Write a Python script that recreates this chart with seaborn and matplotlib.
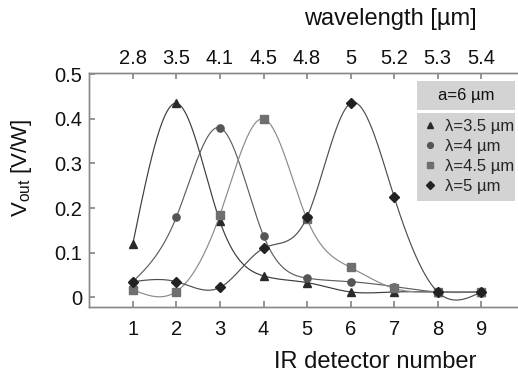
import numpy as np
import matplotlib
matplotlib.use("Agg")
import matplotlib.pyplot as plt
from matplotlib.lines import Line2D
from matplotlib.patches import Rectangle
import seaborn as sns

# data
detector = [1, 2, 3, 4, 5, 6, 7, 8, 9]
wavelength_labels = ["2.8", "3.5", "4.1", "4.5", "4.8", "5", "5.2", "5.3", "5.4"]
v_35 = [0.120, 0.435, 0.170, 0.048, 0.033, 0.012, 0.012, 0.012, 0.012]
v_40 = [0.035, 0.180, 0.380, 0.138, 0.043, 0.035, 0.024, 0.012, 0.012]
v_45 = [0.017, 0.013, 0.185, 0.400, 0.175, 0.067, 0.020, 0.012, 0.012]
v_50 = [0.035, 0.035, 0.022, 0.110, 0.180, 0.435, 0.225, 0.012, 0.012]
series_labels = ["λ=3.5 µm", "λ=4 µm", "λ=4.5 µm", "λ=5 µm"]

W, H = 518, 376


def smooth_curve(x, y, n=400):
    # natural cubic spline through the measured points (for the drawn line only)
    x = np.asarray(x, float)
    y = np.asarray(y, float)
    k = len(x)
    h = np.diff(x)
    A = np.zeros((k, k))
    r = np.zeros(k)
    A[0, 0] = A[-1, -1] = 1
    for i in range(1, k - 1):
        A[i, i - 1] = h[i - 1]
        A[i, i] = 2 * (h[i - 1] + h[i])
        A[i, i + 1] = h[i]
        r[i] = 6 * ((y[i + 1] - y[i]) / h[i] - (y[i] - y[i - 1]) / h[i - 1])
    M = np.linalg.solve(A, r)
    xs = np.linspace(x[0], x[-1], n)
    idx = np.clip(np.searchsorted(x, xs) - 1, 0, k - 2)
    x0, x1 = x[idx], x[idx + 1]
    hh = x1 - x0
    a = (x1 - xs) / hh
    b = (xs - x0) / hh
    ys = a * y[idx] + b * y[idx + 1] + ((a**3 - a) * M[idx] + (b**3 - b) * M[idx + 1]) * hh**2 / 6
    return xs, ys


sns.set_theme(style="ticks")
plt.rcParams["font.family"] = ["Liberation Sans", "DejaVu Sans"]
plt.rcParams["mathtext.fontset"] = "custom"
plt.rcParams["mathtext.rm"] = "Liberation Sans"

fig = plt.figure(figsize=(W / 100, H / 100), dpi=100)
ax = fig.add_axes([89.3 / W, 1 - 307.3 / H, (524.8 - 89.3) / W, (307.3 - 73.3) / H])

styles = [
    (v_35, "^", "#3c3c3c", "#2a2a2a", 6.2),
    (v_40, "o", "#5e5e5e", "#555555", 5.2),
    (v_45, "s", "#8a8a8a", "#6f6f6f", 5.2),
    (v_50, "D", "#4e4e4e", "#222222", 4.6),
]

for vals, mk, lc, mc, ms in styles:
    xs, ys = smooth_curve(detector, vals)
    sns.lineplot(x=xs, y=ys, ax=ax, color=lc, lw=0.85, sort=False)
    ax.plot(detector, vals, ls="none", marker=mk, color=mc, ms=ms, mec=mc)

ax.set_xlim(0, 10)
ax.set_ylim(-0.0224, 0.502)
ax.set_xticks(detector)
ax.set_yticks([0, 0.1, 0.2, 0.3, 0.4, 0.5])
ax.set_yticklabels(["0", "0.1", "0.2", "0.3", "0.4", "0.5"])
ax.tick_params(axis="x", direction="in", length=4.5, color="#888888", labelsize=14.5, pad=9, labelcolor="#111111")
ax.tick_params(axis="y", direction="in", length=4.5, color="#888888", labelsize=14.5, pad=5, labelcolor="#111111")

top = ax.twiny()
top.set_xlim(ax.get_xlim())
top.set_xticks(detector)
top.set_xticklabels(wavelength_labels)
top.tick_params(axis="x", direction="in", length=4.5, color="#888888", labelsize=14.5, pad=4, labelcolor="#111111")

for a in (ax, top):
    for s in a.spines.values():
        s.set_color("#888888")
        s.set_linewidth(1.0)
    a.spines["right"].set_visible(False)

fig.text(375 / W, 1 - 362 / H, "IR detector number", ha="center", va="center", fontsize=17, color="#111111")
fig.text(390 / W, 1 - 19 / H, "wavelength [µm]", ha="center", va="center", fontsize=17, color="#111111")
fig.text(22 / W, 1 - 168 / H, r"V$_{\rm out}$ [V/W]", ha="center", va="center", rotation=90,
         fontsize=16, color="#111111")

# legend: title panel plus entries panel
fig.patches.append(Rectangle((416.7 / W, 1 - 110 / H), (515 - 416.7) / W, (110 - 80.7) / H,
                             transform=fig.transFigure, facecolor="#d3d3d3", edgecolor="none", zorder=5))
fig.text(466 / W, 1 - 95.5 / H, "a=6 µm", ha="center", va="center", fontsize=12, color="#111111", zorder=6)

handles = [Line2D([], [], ls="none", marker=mk, color=mc, mec=mc, ms=ms * 0.8)
           for (_, mk, _, mc, ms) in styles]
leg = ax.legend(handles, series_labels, loc="upper left",
                bbox_to_anchor=(416.7 / W, 1 - 112.5 / H, (515 - 416.7) / W, 0.0),
                bbox_transform=fig.transFigure, mode="expand", borderaxespad=0,
                frameon=True, fancybox=False, framealpha=1, facecolor="#d3d3d3",
                edgecolor="none", fontsize=12, handlelength=0.8, handletextpad=0.5,
                labelspacing=0.3, borderpad=0.4)
leg.set_zorder(10)

fig.savefig("out.png", dpi=100)
